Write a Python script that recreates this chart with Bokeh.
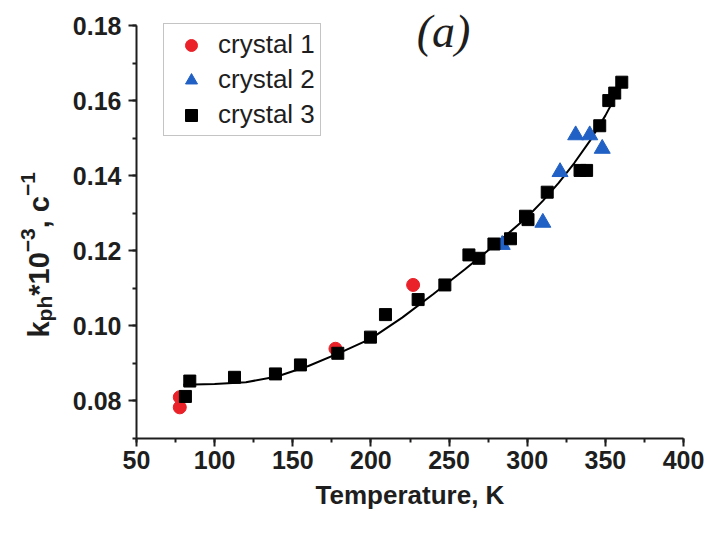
import math
from bokeh.plotting import figure
from bokeh.layouts import row
from bokeh.models import Range1d, SingleIntervalTicker, PrintfTickFormatter, Label
from bokeh.embed import file_html
from bokeh.resources import INLINE

# ---- data ----
c1_T = [77.7, 77.7, 177.3, 227.0]
c1_k = [0.0783, 0.0810, 0.0939, 0.1109]

c2_T = [284.0, 310.0, 321.0, 331.0, 340.0, 348.0]
c2_k = [0.1216, 0.1275, 0.1410, 0.1508, 0.1508, 0.1472]

c3_T = [81.3, 84.1, 112.7, 138.9, 154.9, 178.8, 199.7, 209.3, 230.2, 247.3,
        262.7, 269.1, 278.7, 289.3, 298.9, 300.5, 312.8, 333.8, 338.0, 346.4,
        352.2, 356.0, 360.5]
c3_k = [0.0812, 0.0853, 0.0863, 0.0872, 0.0896, 0.0927, 0.0970, 0.1030, 0.1070, 0.1109,
        0.1189, 0.1180, 0.1218, 0.1232, 0.1292, 0.1283, 0.1356, 0.1414, 0.1414, 0.1533,
        0.1600, 0.1620, 0.1649]

fit_T = [80, 100, 120, 140, 160, 180, 200, 220, 240, 260, 280, 300, 310, 320, 330, 340, 350, 360]
fit_k = [0.0843, 0.0845, 0.0850, 0.0865, 0.0893, 0.0928, 0.0966, 0.1022, 0.1085, 0.1150,
         0.1218, 0.1290, 0.1333, 0.1380, 0.1433, 0.1492, 0.1560, 0.1638]

x_ticks_interval = 50
y_ticks_interval = 0.02
y_lo, y_hi = 0.07, 0.18

RED = "#ea2129"
BLUE = "#2160c4"
BLACK = "#000000"
TXT = "#1e1e1e"
FONT = "Liberation Sans"

W_TOTAL, H = 717, 535
L = 60                      # width of the strip that holds the y title
TOP_PAD = 25                # space above the 0.18 tick inside the frame
BOTTOM = 97
frame_h = H - BOTTOM
y_top = y_hi + (y_hi - y_lo) * TOP_PAD / (frame_h - TOP_PAD)

# ---- strip with the y-axis title (pieces for sub/superscripts) ----
t = figure(width=L, height=H, output_backend="svg", toolbar_location=None,
           x_range=Range1d(0, L), y_range=Range1d(BOTTOM, H),
           x_axis_location=None, y_axis_location=None,
           min_border_left=0, min_border_right=0,
           min_border_top=0, min_border_bottom=BOTTOM)
t.outline_line_color = None
t.grid.visible = False

MAIN, SMALL = 29, 21
W = {"k": .556, "p": .611, "h": .611, "*": .389, "1": .556, "0": .556, "\u2212": .584,
     "3": .556, ",": .278, " ": .278, "c": .556}
pieces = [("k", MAIN, 38), ("ph", SMALL, 44), ("*10", MAIN, 38), ("\u22123", SMALL, 27),
          (", c", MAIN, 38), ("\u22121", SMALL, 27)]
ypos = H - 337.0
for txt, fs, xs in pieces:
    t.add_layout(Label(x=xs, y=ypos, text=txt,
                       angle=math.pi / 2, text_align="left", text_baseline="alphabetic",
                       text_font=FONT, text_font_style="bold", text_font_size=f"{fs}px",
                       text_color=TXT))
    ypos += sum(W[ch] for ch in txt) * fs

# ---- main plot ----
p = figure(width=W_TOTAL - L, height=H, output_backend="svg", toolbar_location=None,
           x_range=Range1d(50, 400), y_range=Range1d(y_lo, y_top),
           min_border_left=136 - L, min_border_right=34, min_border_top=0,
           min_border_bottom=BOTTOM)
p.outline_line_color = None
p.grid.visible = False
p.background_fill_color = "white"
p.border_fill_color = "white"

p.line(fit_T, fit_k, line_color=BLACK, line_width=2)
p.scatter(c1_T, c1_k, marker="circle", size=13, fill_color=RED, line_color=RED, legend_label="crystal 1")
p.scatter(c2_T, c2_k, marker="triangle", size=16, fill_color=BLUE, line_color=BLUE, legend_label="crystal 2")
p.scatter(c3_T, c3_k, marker="square", size=12, fill_color=BLACK, line_color=BLACK, legend_label="crystal 3")

p.xaxis.ticker = SingleIntervalTicker(interval=x_ticks_interval, num_minor_ticks=2)
p.yaxis.ticker = SingleIntervalTicker(interval=y_ticks_interval, num_minor_ticks=2)
p.yaxis.formatter = PrintfTickFormatter(format="%.2f")
p.yaxis.bounds = (y_lo, y_hi)

for ax in (p.xaxis[0], p.yaxis[0]):
    ax.axis_line_width = 2
    ax.axis_line_color = TXT
    ax.major_tick_line_width = 2
    ax.major_tick_line_color = TXT
    ax.major_tick_out = 8
    ax.major_tick_in = 0
    ax.minor_tick_line_width = 2
    ax.minor_tick_line_color = TXT
    ax.minor_tick_out = 4
    ax.minor_tick_in = 0
    ax.major_label_text_font = FONT
    ax.major_label_text_font_style = "bold"
    ax.major_label_text_font_size = "25px"
    ax.major_label_text_color = TXT

p.xaxis.major_label_standoff = 4
p.yaxis.major_label_standoff = 7
p.xaxis.axis_label = "Temperature, K"
p.xaxis.axis_label_text_font = FONT
p.xaxis.axis_label_text_font_style = "bold"
p.xaxis.axis_label_text_font_size = "26px"
p.xaxis.axis_label_text_color = TXT
p.xaxis.axis_label_standoff = 8

p.add_layout(Label(x=307, y=frame_h - 31, x_units="screen", y_units="screen", text="(a)",
                   text_align="center", text_baseline="middle", text_font="Liberation Serif",
                   text_font_style="italic", text_font_size="46px", text_color=TXT))

lg = p.legend[0]
lg.location = (27, 302)
lg.label_text_font = FONT
lg.label_text_font_size = "26px"
lg.label_text_color = TXT
lg.glyph_width = 44
lg.glyph_height = 30
lg.label_height = 30
lg.label_standoff = 5
lg.spacing = 4
lg.padding = 5
lg.margin = 0
lg.border_line_color = "#8a8a8a"
lg.border_line_width = 1.5
lg.background_fill_alpha = 1

layout = row(t, p, spacing=0)
open("out.html", "w").write(file_html(layout, INLINE))
